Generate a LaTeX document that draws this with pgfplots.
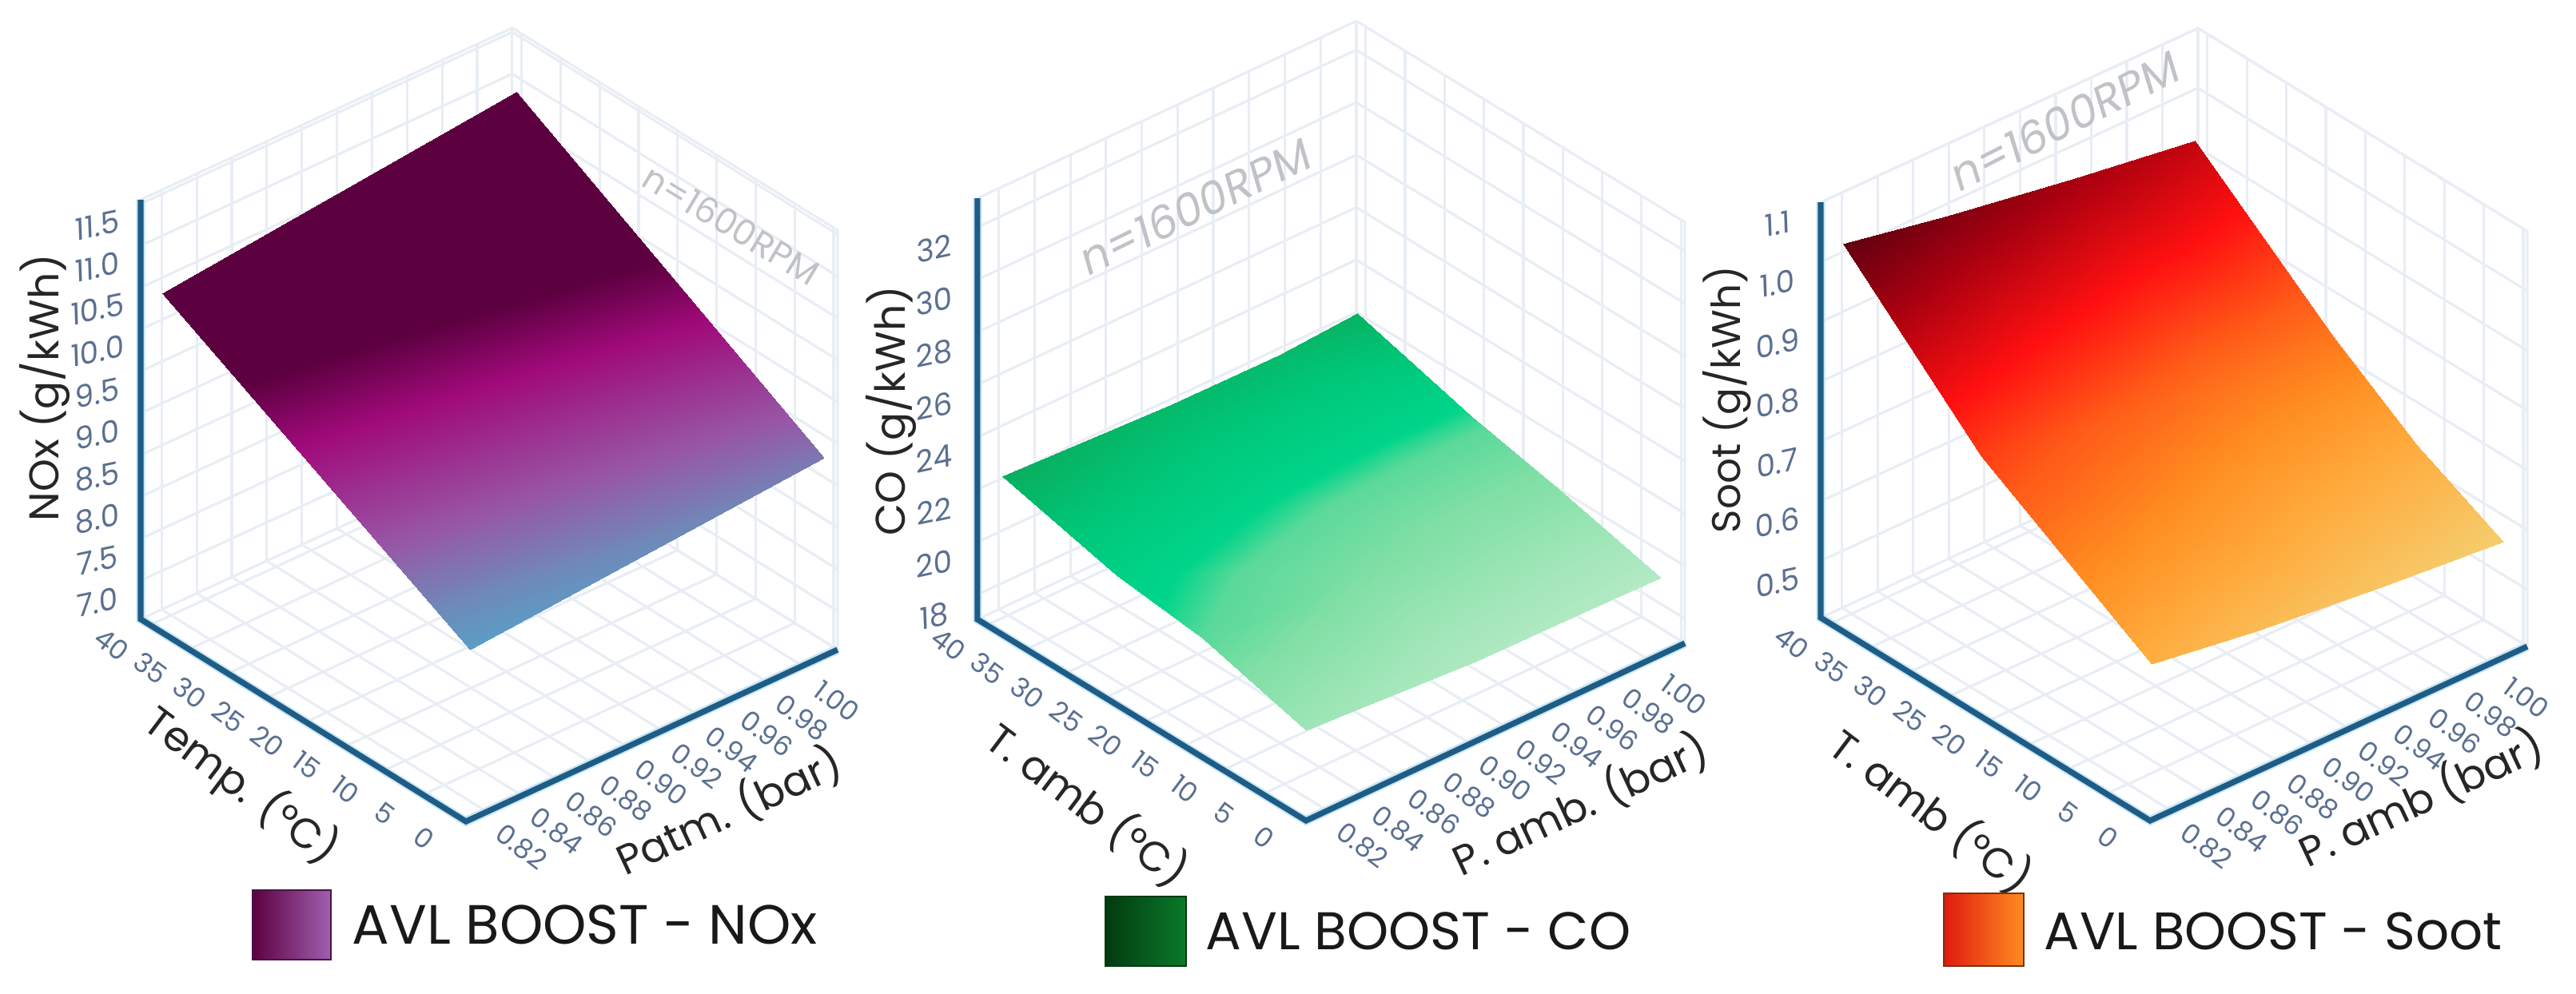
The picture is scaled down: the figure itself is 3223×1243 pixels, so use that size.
\documentclass[border=0pt]{standalone}
\usepackage{fontspec}
\setmainfont{Poppins}
\usepackage{pgfplots}
\pgfplotsset{compat=1.18}
\definecolor{gridc}{HTML}{E9EDF4}
\definecolor{axisc}{HTML}{1F5C85}
\definecolor{haloc}{HTML}{C4E6F6}
\definecolor{tickc}{HTML}{5B7090}
\definecolor{notec}{HTML}{C0C2C6}
\definecolor{noxa}{RGB}{92,0,64}
\definecolor{noxb}{RGB}{160,10,122}
\definecolor{noxc}{RGB}{160,96,176}
\definecolor{noxd}{RGB}{70,20,70}
\definecolor{coa}{RGB}{2,58,16}
\definecolor{cob}{RGB}{10,122,42}
\definecolor{soota}{RGB}{224,26,16}
\definecolor{sootb}{RGB}{255,140,32}
\definecolor{sootd}{RGB}{120,50,16}

\pgfplotsset{
  panel/.style={
    clip=false, anchor=origin,
    axis line style={draw=none}, major tick length=0pt,
    grid=major, grid style={gridc, line width=0.8pt},
    xmin=0.788, xmax=1, ymin=-0.5, ymax=41.2,
    xtick={0.80,0.82,0.84,0.86,0.88,0.90,0.92,0.94,0.96,0.98,1.00},
    xticklabels={,0.82,0.84,0.86,0.88,0.90,0.92,0.94,0.96,0.98,1.00},
    ytick={0,5,10,15,20,25,30,35,40},
    yticklabels={0,5,10,15,20,25,30,35,40},
    xticklabel style={font=\fontsize{8.5}{10}\selectfont, text=tickc, rotate=-37, anchor=center, xshift=9.5pt, yshift=-13pt},
    yticklabel style={font=\fontsize{8.5}{10}\selectfont, text=tickc, rotate=-37, anchor=center, xshift=-6pt, yshift=-12pt},
    zticklabel style={font=\fontsize{9.5}{11}\selectfont\itshape, text=tickc, rotate=12, anchor=center, xshift=-14.75pt, yshift=-3.75pt},
    zticklabel pos=left,
  },
  frame/.style={gridc, line width=0.8pt, forget plot},
  axhalo/.style={haloc, line width=2.8pt, forget plot},
  axline/.style={axisc, line width=1.8pt, forget plot},
  surface/.style={surf, shader=interp, mesh/cols=#1, point meta=z},
}

\begin{document}
\begin{tikzpicture}[x=0.25pt, y=-0.25pt]
\path[use as bounding box] (0,0) rectangle (3223,1243);

% NOx
\begin{axis}[panel, at={(144.525pt,-256.25pt)},
  x={(548.25pt,253.5pt)}, y={(-2.44pt,1.5175pt)}, z={(0pt,26.2pt)},
  zmin=6.54, zmax=11.55,
  ztick={7,7.5,8,8.5,9,9.5,10,10.5,11,11.5},
  zticklabels={7.0,7.5,8.0,8.5,9.0,9.5,10.0,10.5,11.0,11.5},
  colormap={nox}{rgb255(0cm)=(88,160,200); rgb255(0.25cm)=(112,136,184); rgb255(0.6cm)=(152,85,165);
    rgb255(1.14cm)=(160,10,122); rgb255(1.48cm)=(92,0,64); rgb255(2.5cm)=(92,0,64)},
  point meta min=8.5, point meta max=11,
]
\addplot3[frame] coordinates {(0.788,41.2,11.55)(1,41.2,11.55)(1,-0.5,11.55)(1,-0.5,6.54)(1,41.2,6.54)(0.788,41.2,6.54)};
\addplot3[frame] coordinates {(1,41.2,6.54)(1,41.2,11.55)};
\addplot3[surface=2] coordinates {
  (0.7925,0,8.52)(0.9945,0,8.86)
  (0.7925,39.4,10.49)(0.9945,39.4,10.94)
};
\addplot3[axhalo] coordinates {(0.788,41.2,11.55)(0.788,41.2,6.54)(0.788,-0.5,6.54)(1,-0.5,6.54)};
\addplot3[axline] coordinates {(0.788,41.2,11.55)(0.788,41.2,6.54)(0.788,-0.5,6.54)(1,-0.5,6.54)};
\end{axis}

% CO
\begin{axis}[panel, at={(407.275pt,-256pt)},
  x={(559pt,261.75pt)}, y={(-2.465pt,1.51pt)}, z={(0pt,8.2125pt)},
  zmin=17.06, zmax=33.1,
  ztick={18,20,22,24,26,28,30,32},
  zticklabels={18,20,22,24,26,28,30,32},
  colormap={co}{rgb255(0cm)=(180,234,196); rgb255(0.5cm)=(160,230,184); rgb255(1.2cm)=(128,223,165);
    rgb255(1.65cm)=(90,217,154); rgb255(1.85cm)=(0,213,138); rgb255(2.5cm)=(0,198,120); rgb255(3.2cm)=(10,172,92)},
  point meta min=19.8, point meta max=23,
]
\addplot3[frame] coordinates {(0.788,41.2,33.1)(1,41.2,33.1)(1,-0.5,33.1)(1,-0.5,17.06)(1,41.2,17.06)(0.788,41.2,17.06)};
\addplot3[frame] coordinates {(1,41.2,17.06)(1,41.2,33.1)};
\addplot3[surface=4] coordinates {
  (0.79,0,20.35)(0.885,0,19.95)(0.945,0,19.87)(0.9886,0,19.82)
  (0.79,13,21.45)(0.885,13,21.0)(0.945,13,20.85)(0.9886,13,20.85)
  (0.79,24,21.85)(0.885,24,21.6)(0.945,24,21.55)(0.9886,24,21.56)
  (0.79,38.5,22.94)(0.885,38.5,22.65)(0.945,38.5,22.62)(0.9886,38.5,22.83)
};
\addplot3[axhalo] coordinates {(0.788,41.2,33.1)(0.788,41.2,17.06)(0.788,-0.5,17.06)(1,-0.5,17.06)};
\addplot3[axline] coordinates {(0.788,41.2,33.1)(0.788,41.2,17.06)(0.788,-0.5,17.06)(1,-0.5,17.06)};
\end{axis}

% Soot
\begin{axis}[panel, at={(671.275pt,-256pt)},
  x={(556.5pt,257pt)}, y={(-2.47pt,1.5225pt)}, z={(0pt,187pt)},
  zmin=0.405, zmax=1.1,
  ztick={0.5,0.6,0.7,0.8,0.9,1.0,1.1},
  zticklabels={0.5,0.6,0.7,0.8,0.9,1.0,1.1},
  colormap={soot}{rgb255(0cm)=(245,205,110); rgb255(0.8cm)=(255,170,60); rgb255(1.4cm)=(255,140,32);
    rgb255(2.1cm)=(255,90,24); rgb255(2.9cm)=(255,16,16); rgb255(3.8cm)=(170,0,16); rgb255(4.6cm)=(90,0,16)},
  point meta min=0.59, point meta max=1.05,
]
\addplot3[frame] coordinates {(0.788,41.2,1.1)(1,41.2,1.1)(1,-0.5,1.1)(1,-0.5,0.405)(1,41.2,0.405)(0.788,41.2,0.405)};
\addplot3[frame] coordinates {(1,41.2,0.405)(1,41.2,1.1)};
\addplot3[surface=4] coordinates {
  (0.7911,0,0.659)(0.85,0,0.632)(0.92,0,0.61)(0.9888,0,0.591)
  (0.7911,11,0.747)(0.85,11,0.72)(0.92,11,0.685)(0.9888,11,0.665)
  (0.7911,21.6,0.83)(0.85,21.6,0.80)(0.92,21.6,0.77)(0.9888,21.6,0.76)
  (0.7911,39.07,1.044)(0.85,39.07,1.01)(0.92,39.07,0.975)(0.9888,39.07,0.944)
};
\addplot3[axhalo] coordinates {(0.788,41.2,1.1)(0.788,41.2,0.405)(0.788,-0.5,0.405)(1,-0.5,0.405)};
\addplot3[axline] coordinates {(0.788,41.2,1.1)(0.788,41.2,0.405)(0.788,-0.5,0.405)(1,-0.5,0.405)};
\end{axis}

% axis titles
\tikzset{ttl/.style={font=\fontsize{13}{15}\selectfont, text=black!85, inner sep=0pt},
  lab/.style={text=black!90, inner sep=0pt, anchor=west},
  note/.style={text=notec, inner sep=0pt}}
\node[ttl, rotate=90] at (56,485) {NOx (g/kWh)};
\node[ttl, rotate=-37] at (302,983) {Temp. (°C)};
\node[ttl, rotate=25] at (912,1015) {Patm. (bar)};
\node[ttl, rotate=90] at (1115,514) {CO (g/kWh)};
\node[ttl, rotate=-37] at (1361,1007) {T. amb (°C)};
\node[ttl, rotate=25] at (1977,1007) {P. amb. (bar)};
\node[ttl, rotate=90, font=\fontsize{12.5}{15}\selectfont] at (2161,500) {Soot (g/kWh)};
\node[ttl, rotate=-37] at (2416,1015) {T. amb (°C)};
\node[ttl, rotate=25] at (3029,999) {P. amb (bar)};

% notes
\node[note, rotate=-31, font=\fontsize{11}{13}\selectfont] at (915,281) {n=1600RPM};
\node[note, rotate=26, font=\fontsize{14}{16}\selectfont\itshape] at (1495,258) {n=1600RPM};
\node[note, rotate=27, font=\fontsize{14}{16}\selectfont\itshape] at (2583,151) {n=1600RPM};

% legend
\shade[left color=noxa, middle color=noxb, right color=noxc, draw=noxd] (316,1114) rectangle (414,1201);
\node[lab, font=\fontsize{17.3}{20}\selectfont] at (440,1157) {AVL BOOST - NOx};
\shade[left color=coa, right color=cob, draw=coa] (1383,1122) rectangle (1484,1209);
\node[lab, font=\fontsize{16.6}{20}\selectfont] at (1508,1165) {AVL BOOST - CO};
\shade[left color=soota, right color=sootb, draw=sootd] (2432,1118) rectangle (2532,1209);
\node[lab, font=\fontsize{16.5}{20}\selectfont] at (2557,1165) {AVL BOOST - Soot};
\end{tikzpicture}
\end{document}
